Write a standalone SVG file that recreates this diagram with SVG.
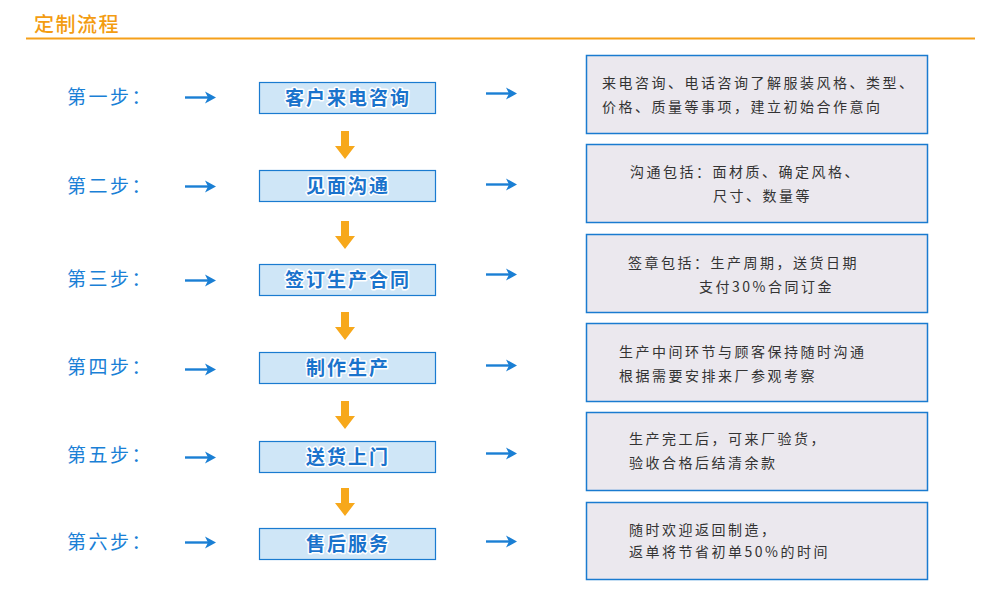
<svg xmlns="http://www.w3.org/2000/svg" width="1000" height="595" viewBox="0 0 1000 595">
<defs>
<style>
.title{font-family:"Noto Sans CJK SC","Noto Sans",sans-serif;font-size:20px;font-weight:500;fill:#f39c12;letter-spacing:1.5px}
.step{font-family:"Noto Sans CJK SC","Noto Sans",sans-serif;font-size:19px;fill:#1a80d6;letter-spacing:2.5px}
.box{fill:#cfe6f7;stroke:#1a7bd0;stroke-width:1.2}
.btxt{font-family:"Noto Sans CJK SC","Noto Sans",sans-serif;font-size:19px;font-weight:bold;fill:#1a73cc;stroke:#ffffff;stroke-width:3;paint-order:stroke;stroke-linejoin:round;letter-spacing:2px;text-anchor:middle}
.note{fill:#ebe8ee;stroke:#1a7bd0;stroke-width:1.5}
.ntxt{font-family:"Noto Sans CJK SC","Noto Sans",sans-serif;font-size:14px;fill:#333333;letter-spacing:2.5px}
.blue{stroke:#1a7fd4;stroke-width:2.4;fill:none}
.bhead{fill:#1a7fd4}
.orange{fill:#f7a81b}
</style>
<g id="rarrow"><line class="blue" x1="0" y1="0" x2="24" y2="0"/><path class="bhead" d="M20,-6 L31,0 L20,6 L23,0 Z"/></g>
<path id="darrow" class="orange" d="M-4,0 H4 V15 H10 L0,28 L-10,15 H-4 Z"/>
</defs>
<rect width="1000" height="595" fill="#ffffff"/>
<g id="header">
<text class="title" x="34" y="32">定制流程</text>
<line x1="26" y1="38.5" x2="975" y2="38.5" stroke="#f5a01a" stroke-width="2"/>
</g>
<g id="labels">
<text class="step" x="67" y="104">第一步：</text>
<text class="step" x="67" y="193">第二步：</text>
<text class="step" x="67" y="286">第三步：</text>
<text class="step" x="67" y="374">第四步：</text>
<text class="step" x="67" y="462">第五步：</text>
<text class="step" x="67" y="549">第六步：</text>
</g>
<g id="connectors">
<use href="#rarrow" x="185" y="97.5"/>
<use href="#rarrow" x="185" y="186.5"/>
<use href="#rarrow" x="185" y="280.5"/>
<use href="#rarrow" x="185" y="369.5"/>
<use href="#rarrow" x="185" y="457.5"/>
<use href="#rarrow" x="185" y="542.5"/>
<use href="#rarrow" x="486" y="93.5"/>
<use href="#rarrow" x="486" y="184.5"/>
<use href="#rarrow" x="486" y="274.5"/>
<use href="#rarrow" x="486" y="365.5"/>
<use href="#rarrow" x="486" y="453.5"/>
<use href="#rarrow" x="486" y="541.5"/>
<use href="#darrow" x="345" y="131"/>
<use href="#darrow" x="345" y="221"/>
<use href="#darrow" x="345" y="312"/>
<use href="#darrow" x="345" y="401"/>
<use href="#darrow" x="345" y="488"/>
</g>
<g id="step1"><rect class="box" x="259.5" y="82.5" width="176" height="31"/><text class="btxt" x="348" y="105">客户来电咨询</text></g>
<g id="step2"><rect class="box" x="259.5" y="170.5" width="176" height="31"/><text class="btxt" x="348" y="193">见面沟通</text></g>
<g id="step3"><rect class="box" x="259.5" y="264.5" width="176" height="31"/><text class="btxt" x="348" y="287">签订生产合同</text></g>
<g id="step4"><rect class="box" x="259.5" y="352.5" width="176" height="31"/><text class="btxt" x="348" y="375">制作生产</text></g>
<g id="step5"><rect class="box" x="259.5" y="441.5" width="176" height="31"/><text class="btxt" x="348" y="464">送货上门</text></g>
<g id="step6"><rect class="box" x="259.5" y="528.5" width="176" height="31"/><text class="btxt" x="348" y="551">售后服务</text></g>
<g id="note1"><rect class="note" x="586.5" y="55.5" width="341" height="78"/>
<text class="ntxt" x="602" y="88">来电咨询、电话咨询了解服装风格、类型、</text>
<text class="ntxt" x="602" y="112">价格、质量等事项，建立初始合作意向</text></g>
<g id="note2"><rect class="note" x="586.5" y="144.5" width="341" height="78"/>
<text class="ntxt" x="630" y="177">沟通包括：面材质、确定风格、</text>
<text class="ntxt" x="713" y="201">尺寸、数量等</text></g>
<g id="note3"><rect class="note" x="586.5" y="234.5" width="341" height="78"/>
<text class="ntxt" x="628" y="268">签章包括：生产周期，送货日期</text>
<text class="ntxt" x="699" y="292">支付30%合同订金</text></g>
<g id="note4"><rect class="note" x="586.5" y="323.5" width="341" height="78"/>
<text class="ntxt" x="619" y="357">生产中间环节与顾客保持随时沟通</text>
<text class="ntxt" x="619" y="381">根据需要安排来厂参观考察</text></g>
<g id="note5"><rect class="note" x="586.5" y="412.5" width="341" height="78"/>
<text class="ntxt" x="629" y="444">生产完工后，可来厂验货，</text>
<text class="ntxt" x="629" y="468">验收合格后结清余款</text></g>
<g id="note6"><rect class="note" x="586.5" y="502.5" width="341" height="77"/>
<text class="ntxt" x="629" y="535">随时欢迎返回制造，</text>
<text class="ntxt" x="629" y="557">返单将节省初单50%的时间</text></g>
</svg>
